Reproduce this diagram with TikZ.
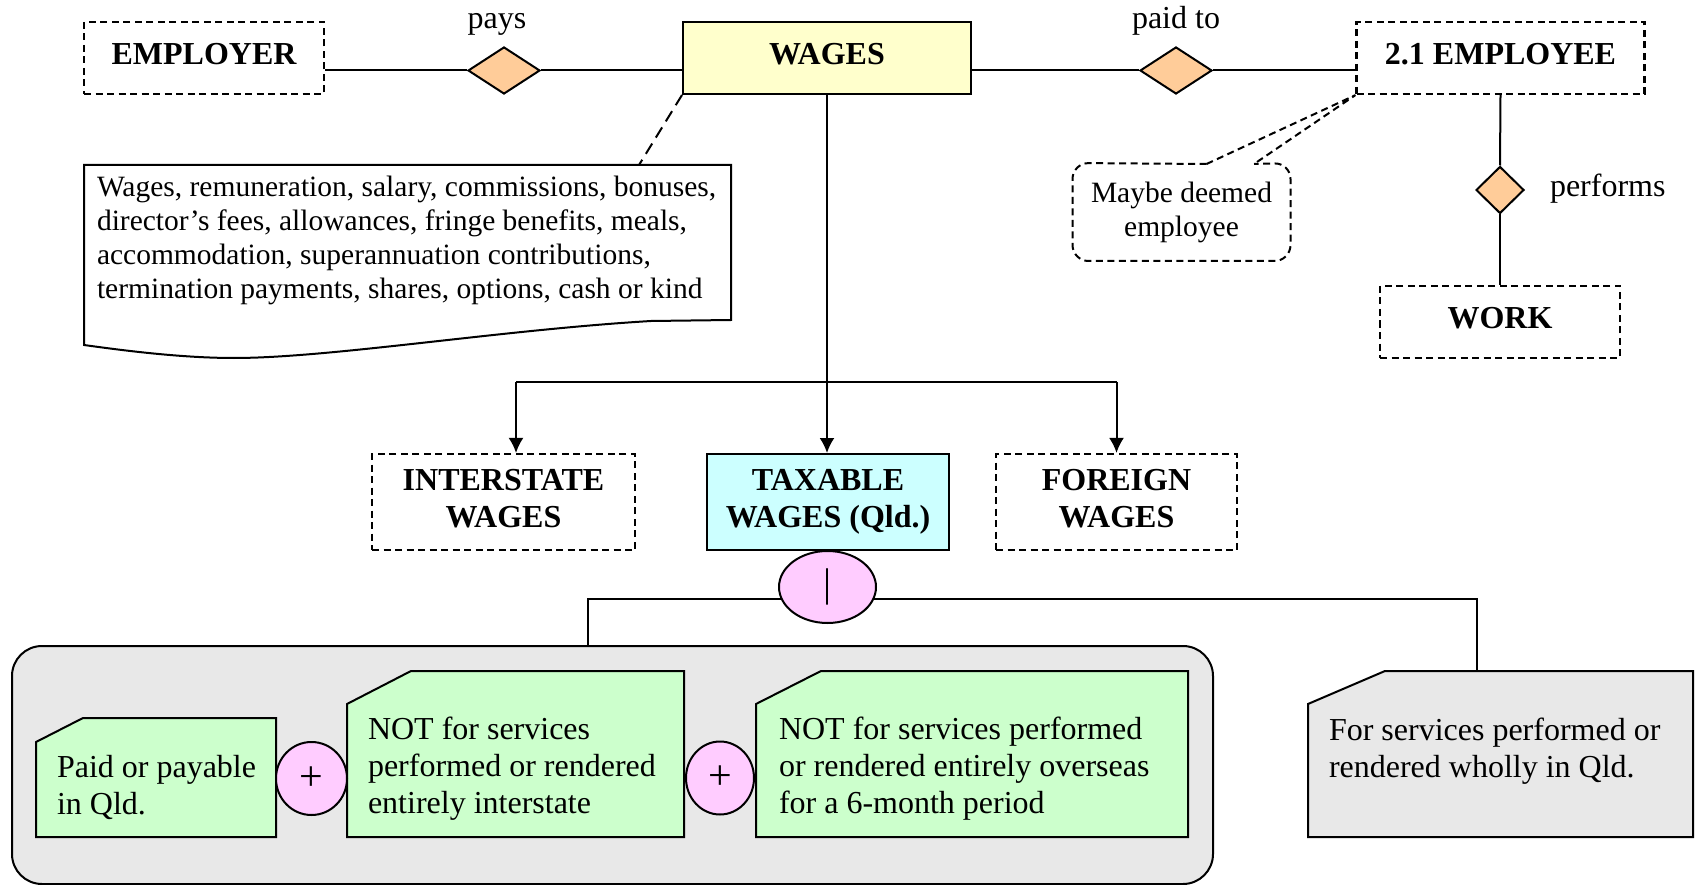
\documentclass[tikz,border=0pt]{standalone}
\usepackage{fontspec}
\setmainfont{Liberation Serif}
\usetikzlibrary{arrows.meta,shapes.geometric}

\definecolor{wageyellow}{HTML}{FFFFCC}
\definecolor{taxcyan}{HTML}{CCFFFF}
\definecolor{relorange}{HTML}{FFCC99}
\definecolor{oppink}{HTML}{FFCCFF}
\definecolor{notegreen}{HTML}{CCFFCC}
\definecolor{panelgrey}{HTML}{E8E8E8}

\begin{document}
\begin{tikzpicture}[x=1pt, y=-1pt, line width=2pt, line join=miter,
  bigtxt/.style={font=\fontsize{32}{37}\selectfont},
  bigbf/.style={font=\fontsize{32}{37}\selectfont\bfseries},
  smalltxt/.style={font=\fontsize{29.5}{34}\selectfont},
  dashline/.style={dash pattern=on 7pt off 4.5pt},
  entity/.style={draw, dashline, line width=2.2pt, inner sep=0pt, text depth=8pt, align=center, bigbf},
  solidbox/.style={draw, inner sep=0pt, text depth=8pt, align=center, bigbf},
  rel/.style={diamond, draw, fill=relorange, inner sep=0pt},
  opsym/.style={ellipse, draw, fill=oppink, inner sep=0pt, bigtxt},
  lbl/.style={inner sep=0pt, bigtxt},
  notetext/.style={inner sep=0pt, align=left, anchor=base west, bigtxt},
  arr/.style={-{Latex[length=15pt,width=15pt]}},
]

  %% ════ 实体 ════
  \node[entity, minimum width=240pt, minimum height=72pt] (employer) at (204,58) {EMPLOYER};
  \node[solidbox, fill=wageyellow, minimum width=288pt, minimum height=72pt] (wages) at (827,58) {WAGES};
  \node[entity, minimum width=288pt, minimum height=72pt] (employee) at (1500.5,58) {2.1 EMPLOYEE};
  \node[entity, minimum width=240pt, minimum height=72pt] (work) at (1500,322) {WORK};

  %% ════ 关系（菱形）════
  \node[rel, minimum width=72pt, minimum height=47pt] (pays) at (504,70.5) {};
  \node[rel, minimum width=72pt, minimum height=47pt] (paidto) at (1176,70.5) {};
  \node[rel, minimum width=48pt, minimum height=47pt] (performs) at (1500,190) {};
  \node[lbl, anchor=base] (payslbl) at (497,29) {pays};
  \node[lbl, anchor=base] (paidtolbl) at (1176,29) {paid to};
  \node[lbl, anchor=base west] (performslbl) at (1549,197) {performs};

  \draw (employer.east |- pays.west) -- (pays.west);
  \draw (pays.east) -- (pays.east -| wages.west);
  \draw (wages.east |- paidto.west) -- (paidto.west);
  \draw (paidto.east) -- (paidto.east -| employee.west);
  \draw (employee.south) -- (performs.north);
  \draw (performs.south) -- (work.north);

  %% ════ 工资说明框 ════
  \draw[fill=white] (84,165) -- (731,165) -- (731,320) -- (651,321)
    .. controls (500,330) and (330,358) .. (234,358)
    .. controls (180,358) and (120,350) .. (84,345) -- cycle;
  \node[notetext, smalltxt] (wagesnote) at (96,299) {Wages, remuneration, salary, commissions, bonuses,\\director’s fees, allowances, fringe benefits, meals,\\accommodation, superannuation contributions,\\termination payments, shares, options, cash or kind};
  \coordinate (notetip) at (639,165);
  \draw[dash pattern=on 12pt off 7pt] (wages.south west) -- (notetip);

  %% ════ 标注：Maybe deemed employee ════
  \node[smalltxt, align=center, inner sep=0pt, minimum width=216pt, minimum height=96pt] (deemed) at (1181.5,212) {Maybe deemed\\employee};
  \coordinate (ptrA) at (1206.5,164);
  \coordinate (ptrB) at (1254,164);
  \draw[dashline, rounded corners=16pt] (ptrA) -- (deemed.north west) -- (deemed.south west)
    -- (deemed.south east) -- (deemed.north east) -- (ptrB);
  \draw[dashline] (ptrA) -- (employee.south west) -- (ptrB);

  %% ════ 三类工资 ════
  \node[entity, minimum width=263pt, minimum height=96pt] (interstate) at (503.5,502) {INTERSTATE\\WAGES};
  \node[solidbox, fill=taxcyan, minimum width=242pt, minimum height=96pt] (taxable) at (828,502) {TAXABLE\\WAGES (Qld.)};
  \node[entity, minimum width=241pt, minimum height=96pt] (foreign) at (1116.5,502) {FOREIGN\\WAGES};

  \coordinate (splitL) at (516,382);
  \coordinate (splitR) at (foreign.north |- splitL);
  \draw[arr] (wages.south) -- (wages.south |- taxable.north);
  \draw (splitL) -- (splitR);
  \draw[arr] (splitL) -- (splitL |- interstate.north);
  \draw[arr] (splitR) -- (foreign.north);

  %% ════ 或（|）及两支 ════
  \node[opsym, font=\fontsize{40}{40}\selectfont, minimum width=97pt, minimum height=72pt] (orsym) at (827.5,587) {|};
  \node[draw, fill=panelgrey, rounded corners=30pt, minimum width=1201pt, minimum height=238pt, inner sep=0pt] (bothpanel) at (612.5,765) {};
  \coordinate (dropL) at (588,646);
  \coordinate (dropR) at (1477,671);
  \draw (orsym.195) -| (dropL);
  \draw (orsym.-15) -| (dropR);

  %% ════ 条件框 ════
  \draw[fill=notegreen] (36,837) -- (36,742) -- (83,718) -- (276,718) -- (276,837) -- cycle;
  \node[notetext] (paidqld) at (56,814) {Paid or payable\\in Qld.};
  \draw[fill=notegreen] (347,837) -- (347,704) -- (411,671) -- (684,671) -- (684,837) -- cycle;
  \node[notetext] (notinter) at (367,813) {NOT for services\\performed or rendered\\entirely interstate};
  \draw[fill=notegreen] (756,837) -- (756,704) -- (821,671) -- (1188,671) -- (1188,837) -- cycle;
  \node[notetext] (notover) at (778,813) {NOT for services performed\\or rendered entirely overseas\\for a 6-month period};
  \draw[fill=panelgrey] (1308,837) -- (1308,704) -- (1385,671) -- (1693,671) -- (1693,837) -- cycle;
  \node[notetext] (wholly) at (1328,777) {For services performed or\\rendered wholly in Qld.};

  \node[opsym, font=\fontsize{42}{42}\selectfont, minimum width=71pt, minimum height=73pt] (plusA) at (311.5,778.5) {+};
  \node[opsym, font=\fontsize{42}{42}\selectfont, minimum width=68pt, minimum height=73pt] (plusB) at (720,778) {+};

  % 钉死画布
  \pgfresetboundingbox
  \path[use as bounding box] (0,0) rectangle (1695,885);
\end{tikzpicture}
\end{document}
